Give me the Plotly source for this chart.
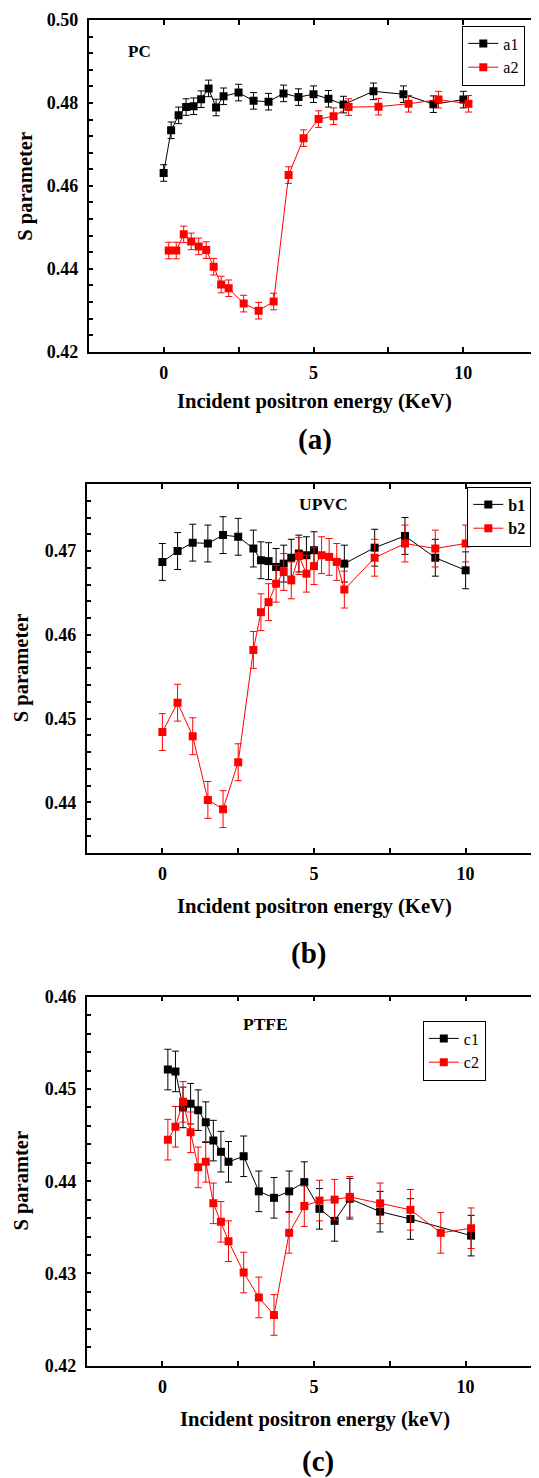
import plotly.graph_objects as go

# S parameter vs incident positron energy for three polymers (PC, UPVC, PTFE)

# (a) PC
a1_x = [0, 0.25, 0.5, 0.75, 1.0, 1.25, 1.5, 1.75, 2.0, 2.5, 3.0, 3.5, 4.0, 4.5, 5.0, 5.5, 6.0, 7.0, 8.0, 9.0, 10.0]
a1_y = [0.4631, 0.4734, 0.4770, 0.4790, 0.4792, 0.4809, 0.4835, 0.4789, 0.4816, 0.4825, 0.4805,
        0.4803, 0.4823, 0.4814, 0.4821, 0.4810, 0.4796, 0.4828, 0.4821, 0.4797, 0.4808]
a2_x = [0.17, 0.42, 0.67, 0.92, 1.17, 1.42, 1.67, 1.92, 2.17, 2.67, 3.17, 3.67, 4.17, 4.67, 5.17,
        5.67, 6.17, 7.17, 8.17, 9.17, 10.17]
a2_y = [0.4444, 0.4444, 0.4483, 0.4466, 0.4454, 0.4445, 0.4405, 0.4362, 0.4353, 0.4316, 0.4299,
        0.4321, 0.4626, 0.4715, 0.4761, 0.4768, 0.4790, 0.4791, 0.4798, 0.4808, 0.4798]
a_err = 0.002

# (b) UPVC
b1_x = [0, 0.5, 1.0, 1.5, 2.0, 2.5, 3.0, 3.25, 3.5, 3.75, 4.0, 4.25, 4.5, 4.75, 5.0, 6.0, 7.0, 8.0, 9.0, 10.0]
b1_y = [0.4687, 0.4700, 0.4710, 0.4709, 0.4719, 0.4717, 0.4703, 0.4689, 0.4688, 0.4681, 0.4685,
        0.4692, 0.4697, 0.4695, 0.4701, 0.4685, 0.4704, 0.4718, 0.4692, 0.4677]
b2_x = [0, 0.5, 1.0, 1.5, 2.0, 2.5, 3.0, 3.25, 3.5, 3.75, 4.0, 4.25, 4.5, 4.75, 5.0, 5.25, 5.5, 5.75,
        6.0, 7.0, 8.0, 9.0, 10.0]
b2_y = [0.4484, 0.4519, 0.4479, 0.4403, 0.4392, 0.4448, 0.4582, 0.4627, 0.4639, 0.4661, 0.4675,
        0.4665, 0.4694, 0.4673, 0.4682, 0.4695, 0.4693, 0.4687, 0.4654, 0.4692, 0.4709, 0.4703, 0.4709]
b_err = 0.0022

# (c) PTFE
c1_x = [0.18, 0.43, 0.68, 0.93, 1.18, 1.43, 1.68, 1.93, 2.18, 2.68, 3.18, 3.68, 4.18, 4.68, 5.18,
        5.68, 6.18, 7.18, 8.18, 10.18]
c1_y = [0.4521, 0.4519, 0.4480, 0.4484, 0.4477, 0.4464, 0.4444, 0.4432, 0.4421, 0.4427, 0.4389,
        0.4382, 0.4389, 0.4399, 0.4370, 0.4357, 0.4381, 0.4367, 0.4359, 0.4341]
c2_x = [0.18, 0.43, 0.68, 0.93, 1.18, 1.43, 1.68, 1.93, 2.18, 2.68, 3.18, 3.68, 4.18, 4.68, 5.18,
        5.68, 6.18, 7.18, 8.18, 9.18, 10.18]
c2_y = [0.4445, 0.4459, 0.4486, 0.4453, 0.4415, 0.4421, 0.4376, 0.4356, 0.4335, 0.4301, 0.4274,
        0.4255, 0.4344, 0.4373, 0.4379, 0.4380, 0.4383, 0.4376, 0.4369, 0.4344, 0.4349]
c_err = 0.0022

# the page has an 8px body margin, so the figure is drawn 8px smaller and
# all page positions below are shifted by that offset
OFF = 8
W, H = 539 - OFF, 1478 - OFF
FONT = "Liberation Serif, Times New Roman, DejaVu Serif, serif"
RED = "#ff0000"


def fx(p):
    return min((p - OFF) / W, 1.0)


def fy(p):
    return 1 - (p - OFF) / H


def serie(x, y, err, name, color, xa, ya, leg):
    return go.Scatter(
        x=x, y=y, name=name, mode="lines+markers", xaxis=xa, yaxis=ya, legend=leg,
        line=dict(color=color, width=1),
        marker=dict(symbol="square", size=8, color=color),
        error_y=dict(type="constant", value=err, color=color, thickness=1, width=3.5),
    )


fig = go.Figure()
fig.add_trace(serie(a1_x, a1_y, a_err, "a1", "black", "x", "y", "legend"))
fig.add_trace(serie(a2_x, a2_y, a_err, "a2", RED, "x", "y", "legend"))
fig.add_trace(serie(b1_x, b1_y, b_err, "b1", "black", "x2", "y2", "legend2"))
fig.add_trace(serie(b2_x, b2_y, b_err, "b2", RED, "x2", "y2", "legend2"))
fig.add_trace(serie(c1_x, c1_y, c_err, "c1", "black", "x3", "y3", "legend3"))
fig.add_trace(serie(c2_x, c2_y, c_err, "c2", RED, "x3", "y3", "legend3"))

tick_font = dict(family=FONT, size=18, color="black", weight="bold")


def xax(left, right, rng, anchor):
    return dict(domain=[fx(left), fx(right)], range=rng, anchor=anchor,
                showline=True, linecolor="black", linewidth=1.5, mirror="ticks",
                ticks="inside", ticklen=5, tickwidth=1.5, tickcolor="black",
                tickvals=[0, 5, 10], ticklabelstandoff=4,
                minor=dict(ticks="inside", ticklen=5, tickwidth=1.5, tickcolor="black", tickvals=[2.5, 7.5]),
                showgrid=False, zeroline=False, tickfont=tick_font)


def yax(top, bottom, rng, dtick, minor, anchor, mirror):
    return dict(domain=[fy(bottom), fy(top)], range=rng, anchor=anchor,
                showline=True, linecolor="black", linewidth=1.5, mirror=mirror,
                ticks="inside", ticklen=5, tickwidth=1.5, tickcolor="black",
                dtick=dtick, tick0=0.42, tickformat=".2f", ticklabelstandoff=5,
                minor=dict(ticks="inside", ticklen=5, tickwidth=1.5, tickcolor="black", dtick=minor),
                showgrid=False, zeroline=False, tickfont=tick_font)


def leg(left, top, size=16, bold=False):
    f = dict(family=FONT, size=size, color="black")
    if bold:
        f["weight"] = "bold"
    return dict(x=fx(left), y=fy(top), xanchor="left", yanchor="top", bgcolor="white",
                bordercolor="black", borderwidth=1, font=f, tracegroupgap=0, itemwidth=30)


def txt(text, x, y, size, angle=0):
    return dict(text=text, x=fx(x), y=fy(y), xref="paper", yref="paper", showarrow=False,
                textangle=angle, xanchor="center", yanchor="middle",
                font=dict(family=FONT, size=size, color="black", weight="bold"))


fig.update_layout(
    width=W, height=H, plot_bgcolor="white", paper_bgcolor="white",
    font=dict(family=FONT),
    margin=dict(l=0, r=0, t=0, b=0, autoexpand=False),
    xaxis=xax(88.7, 538.3, [-2.5, 12.5], "y"),
    yaxis=yax(20, 351.7, [0.42, 0.50], 0.02, 0.004, "x", "ticks"),
    xaxis2=xax(86.6, 539, [-2.5, 12.42], "y2"),
    yaxis2=yax(484, 852.7, [0.434, 0.478], 0.01, 0.002, "x2", False),
    xaxis3=xax(86.6, 539, [-2.5, 12.42], "y3"),
    yaxis3=yax(996.7, 1365.7, [0.42, 0.46], 0.01, 0.002, "x3", False),
    legend=leg(462.3, 25.5),
    legend2=leg(467.3, 486.5, bold=True),
    legend3=leg(422.8, 1020.5),
    annotations=[
        txt("PC", 139.2, 52, 17),
        txt("UPVC", 323.5, 504.3, 17.5),
        txt("PTFE", 265.7, 1024.3, 17.5),
        txt("S parameter", 24.7, 186, 20.5, -90),
        txt("S parameter", 21.3, 668, 20.5, -90),
        txt("S paramter", 20.6, 1181, 20.5, -90),
        txt("Incident positron energy (KeV)", 314.5, 401.7, 20.6),
        txt("Incident positron energy (KeV)", 314.5, 906.7, 20.6),
        txt("Incident positron energy (keV)", 315, 1419.3, 20.6),
        txt("(a)", 315, 440, 29),
        txt("(b)", 308.3, 953.3, 29),
        txt("(c)", 318, 1461.7, 29),
    ],
)

fig.write_html("out.html")
